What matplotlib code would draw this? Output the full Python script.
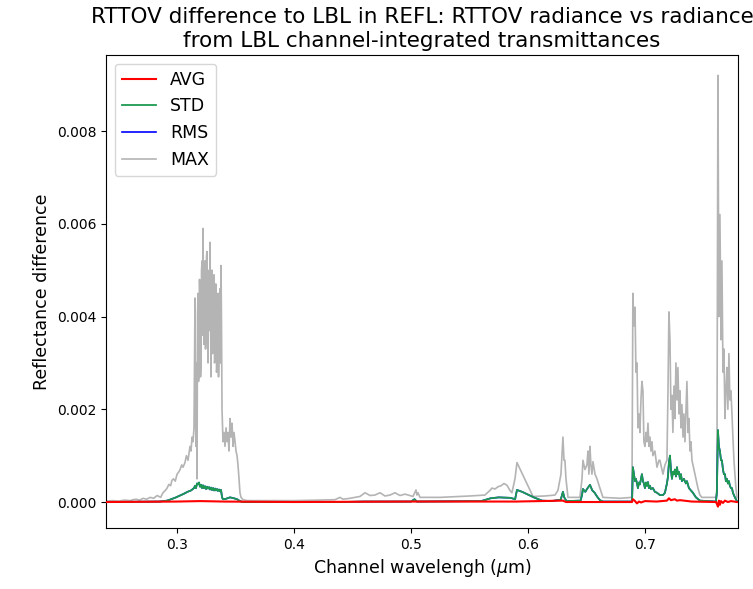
import numpy as np
import matplotlib
matplotlib.use("Agg")
import matplotlib.pyplot as plt

# ---- MAX (wavelength, value) ----
wl_max = [0.2393, 0.245, 0.250, 0.255, 0.260, 0.2624, 0.265, 0.268, 0.271, 0.274, 0.277, 0.280,
          0.283, 0.286, 0.288, 0.290, 0.2915, 0.293, 0.2945, 0.2957, 0.297, 0.2985, 0.300, 0.3015,
          0.3026, 0.304, 0.3051, 0.3068, 0.308, 0.3094, 0.3111, 0.312, 0.3128, 0.3137, 0.3145,
          0.31538, 0.31581, 0.31624, 0.31667, 0.31709, 0.31752, 0.31795, 0.31838, 0.31880, 0.31923,
          0.31966, 0.32009, 0.32051, 0.32094, 0.32137, 0.32179, 0.32222, 0.32265, 0.32308, 0.32350,
          0.32393, 0.32436, 0.32479, 0.32521, 0.32564, 0.32607, 0.32650, 0.32692, 0.32735, 0.32778,
          0.32821, 0.32863, 0.32906, 0.32949, 0.32991, 0.33034, 0.33077, 0.33120, 0.33162, 0.33205,
          0.33248, 0.33291, 0.33333, 0.33376, 0.33419, 0.33462, 0.33504, 0.33547, 0.33590, 0.33632,
          0.33675, 0.33718, 0.33761, 0.33803, 0.33846, 0.33889,
          0.3393, 0.3402, 0.3410, 0.3419, 0.3427,
          0.3436, 0.3444, 0.3453, 0.3462, 0.3470, 0.3479, 0.3487, 0.3496, 0.3504, 0.3513, 0.3521,
          0.3530, 0.3538, 0.3547, 0.3564,
          0.360, 0.380, 0.400, 0.420, 0.435,
          0.4393, 0.4419, 0.4479, 0.4521, 0.4564, 0.4607, 0.4650, 0.4692, 0.4735, 0.4778, 0.4821,
          0.4863, 0.4906, 0.4949, 0.4991, 0.5017, 0.5043, 0.5051, 0.5060, 0.5077, 0.5248, 0.5419,
          0.5504, 0.5632, 0.5675, 0.5692, 0.5718, 0.5744, 0.5769, 0.5795, 0.5821, 0.5846, 0.5863,
          0.5889, 0.5906, 0.6043, 0.6145, 0.6231, 0.6256, 0.6282, 0.6299, 0.6308, 0.6316, 0.6325,
          0.6342, 0.6444, 0.6462, 0.6470, 0.6487, 0.6504, 0.6513, 0.6521, 0.6530, 0.6538, 0.6547,
          0.6556, 0.6573, 0.6590, 0.6615, 0.6641, 0.6786, 0.6889,
          0.6897, 0.6906, 0.6915, 0.6923, 0.6932, 0.6940, 0.6949, 0.6957, 0.6966, 0.6974, 0.6983,
          0.6991, 0.7000, 0.7009, 0.7017, 0.7026, 0.7034, 0.7043, 0.7051, 0.7060, 0.7068, 0.7085,
          0.7103, 0.7120, 0.7128, 0.7145, 0.7154, 0.7171, 0.7188, 0.7197, 0.7205, 0.7214, 0.7222,
          0.7231, 0.7239, 0.7248, 0.7256, 0.7265, 0.7274, 0.7282, 0.7291, 0.7299, 0.7308, 0.7316,
          0.7325, 0.7333, 0.7342, 0.7359, 0.7368, 0.7376, 0.7385, 0.7393, 0.7402, 0.7419, 0.7436,
          0.7453, 0.7470, 0.7487, 0.7607, 0.7615, 0.7624, 0.7632, 0.7641, 0.7650, 0.7658, 0.7667,
          0.7675, 0.7684, 0.7692, 0.7701, 0.7709, 0.7718, 0.7726, 0.7735, 0.7744, 0.7752, 0.7761,
          0.7769, 0.7778, 0.7786]
max_vals = [0.00002, 0.00003, 0.00002, 0.00004, 0.00003, 0.00005, 0.00006, 0.00004, 0.00008, 0.00006,
            0.0001, 0.00008, 0.00014, 0.0001, 0.0002, 0.00025, 0.0003, 0.00038, 0.00035, 0.00047,
            0.0005, 0.00045, 0.0006, 0.00065, 0.0007, 0.0008, 0.00075, 0.00085, 0.001, 0.0009,
            0.0012, 0.0011, 0.0014, 0.0013, 0.0016,
            0.0044, 0.0018, 0.0012, 0.0030, 0.0005, 0.0040, 0.0045, 0.0026, 0.0028, 0.0048,
            0.0043, 0.0027, 0.0030, 0.0050, 0.0052, 0.0036, 0.0059, 0.0041, 0.0034, 0.0049,
            0.0052, 0.0033, 0.0038, 0.0053, 0.0054, 0.0036, 0.0030, 0.0048, 0.0050, 0.0037,
            0.0056, 0.0042, 0.0027, 0.0046, 0.0050, 0.0032, 0.0035, 0.0048, 0.0049, 0.0030,
            0.0031, 0.0047, 0.0047, 0.0028, 0.0029, 0.0044, 0.0045, 0.0027, 0.0033, 0.0044,
            0.0046, 0.0030, 0.0051, 0.0038, 0.0020, 0.0016,
            0.0013, 0.0015, 0.0012, 0.0016, 0.0013,
            0.0015, 0.0011, 0.0018, 0.0014, 0.0017, 0.0012, 0.0015, 0.0013, 0.0011, 0.0010, 0.0008,
            0.0005, 0.0002, 0.0001, 0.00005,
            0.00003, 0.00003, 0.00003, 0.00004, 0.00005,
            0.0001, 0.00006, 0.00008, 0.0001, 0.00012, 0.0002, 0.00014, 0.00015, 0.0002, 0.00013,
            0.00015, 0.0002, 0.00014, 0.00017, 0.00014, 0.00012, 0.00026, 0.00015, 0.0002, 0.0001,
            0.0001, 0.00012, 0.00013, 0.00015, 0.00025, 0.0003, 0.00028, 0.00033, 0.00035, 0.0004,
            0.00036, 0.00025, 0.0002, 0.0005, 0.00085, 0.00012, 0.00013, 0.00015, 0.00025, 0.0006,
            0.0014, 0.0009, 0.0009, 0.0005, 0.0001, 0.0001, 0.0005, 0.0009, 0.0007, 0.0008, 0.0011,
            0.0006, 0.0012, 0.0008, 0.0006, 0.00087, 0.0006, 0.0005, 0.0003, 0.0001, 0.00008, 0.0001,
            0.0045, 0.0038, 0.0042, 0.0028, 0.0030, 0.0016, 0.0019, 0.0015, 0.0022, 0.0026, 0.0024,
            0.0013, 0.0012, 0.0015, 0.0013, 0.0017, 0.0012, 0.0014, 0.0011, 0.0013, 0.0010, 0.0011,
            0.00075, 0.0009, 0.0009, 0.0007, 0.0006, 0.0008, 0.0009, 0.0024, 0.0041, 0.0035, 0.0020,
            0.0023, 0.0015, 0.0025, 0.0018, 0.0030, 0.0022, 0.0029, 0.0019, 0.0024, 0.0016, 0.0021,
            0.0014, 0.0019, 0.0013, 0.0026, 0.0015, 0.0018, 0.0011, 0.0013, 0.0009, 0.0007, 0.0005,
            0.0003, 0.00015, 0.0001, 0.0001, 0.0003, 0.0092, 0.0040, 0.0062, 0.0035, 0.0052, 0.0028,
            0.0033, 0.0018, 0.0024, 0.0029, 0.0020, 0.0032, 0.0022, 0.0024, 0.0019, 0.0014, 0.0009,
            0.0006, 0.0003, 0.0001]

# ---- STD (wavelength, value) ----
wl_std = [0.2393, 0.285, 0.2915, 0.295, 0.2991, 0.3026, 0.306, 0.309, 0.312, 0.3145,
          0.3154, 0.3162, 0.3171, 0.3179, 0.3188, 0.3197, 0.3205, 0.3214, 0.3222, 0.3231, 0.3239,
          0.3248, 0.3256, 0.3265, 0.3274, 0.3282, 0.3291, 0.3299, 0.3308, 0.3316, 0.3325, 0.3333,
          0.3342, 0.3350, 0.3359, 0.3368, 0.3376, 0.3385, 0.3393, 0.3419, 0.3453, 0.3487, 0.3513,
          0.3538, 0.3564, 0.440, 0.460, 0.500, 0.503, 0.505, 0.560, 0.568, 0.575, 0.585, 0.589,
          0.5906, 0.595, 0.600, 0.605, 0.612, 0.620, 0.628, 0.6299, 0.631, 0.633, 0.645, 0.6462,
          0.647, 0.649, 0.651, 0.653, 0.655, 0.657, 0.659, 0.6615, 0.664, 0.689,
          0.6897, 0.6906, 0.6915, 0.6923, 0.6932, 0.6940, 0.6949, 0.6957, 0.6966, 0.6974, 0.6983,
          0.6991, 0.7000, 0.7009, 0.7017, 0.7026, 0.7034, 0.7043, 0.7051, 0.7068, 0.7085, 0.7103,
          0.7128, 0.7154, 0.7171, 0.7188, 0.7197, 0.7205, 0.7214, 0.7222, 0.7231, 0.7239, 0.7248,
          0.7256, 0.7265, 0.7274, 0.7282, 0.7291, 0.7299, 0.7308, 0.7316, 0.7333, 0.7350, 0.7359,
          0.7376, 0.7393, 0.7410, 0.7436, 0.7470, 0.7607, 0.7615, 0.7624, 0.7632, 0.7641, 0.7650,
          0.7658, 0.7667, 0.7675, 0.7684, 0.7692, 0.7701, 0.7709, 0.7718, 0.7726, 0.7735, 0.7744,
          0.7752, 0.7761, 0.7769, 0.7786]
std_vals = [0.0, 0.00001, 0.00003, 0.00006, 0.0001, 0.00014, 0.00018, 0.00022, 0.00025, 0.0003,
            0.00035, 0.0003, 0.0004, 0.00038, 0.00042, 0.00033, 0.00037, 0.0003, 0.00036, 0.0003,
            0.00034, 0.00028, 0.00033, 0.00029, 0.00032, 0.00027, 0.00031, 0.00026, 0.0003, 0.00025,
            0.00029, 0.00025, 0.00028, 0.00024, 0.00027, 0.00023, 0.00026, 0.0001, 0.00006, 0.00007,
            0.0001, 0.00008, 0.00006, 0.00002, 0.0, 0.0, 0.00001, 0.00001, 0.00006, 0.00001,
            0.00002, 0.00008, 0.0001, 0.00009, 0.00006, 0.00026, 0.00022, 0.00016, 0.0001, 0.00003,
            0.00002, 0.00005, 0.00022, 0.0001, 0.00002, 0.00003, 0.00015, 0.00028, 0.00022, 0.0003,
            0.00037, 0.00025, 0.0002, 0.00012, 0.00004, 0.00001, 0.00001,
            0.00075, 0.0006, 0.00045, 0.0005, 0.0004, 0.0003, 0.00042, 0.00038, 0.0005, 0.0006,
            0.00045, 0.0004, 0.0003, 0.00042, 0.00035, 0.00043, 0.0003, 0.00035, 0.00028, 0.0003,
            0.00022, 0.0002, 0.00015, 0.00015, 0.0002, 0.0004, 0.00055, 0.00085, 0.001, 0.0007,
            0.0005, 0.00065, 0.0006, 0.0007, 0.00055, 0.00075, 0.0006, 0.00065, 0.0005, 0.0006,
            0.00045, 0.0005, 0.0004, 0.00045, 0.0003, 0.00025, 0.0002, 0.0001, 0.00003, 0.00001,
            0.0002, 0.00155, 0.0012, 0.0011, 0.0009, 0.0009, 0.0007, 0.0006, 0.0006, 0.00045,
            0.0005, 0.0004, 0.00045, 0.00035, 0.0003, 0.0003, 0.0002, 0.00015, 0.0001, 0.00002]

# ---- RMS: visually indistinguishable from STD (hidden beneath it) ----
wl_rms = wl_std
rms_vals = std_vals

# ---- AVG (wavelength, value) ----
wl_avg = [0.2393, 0.300, 0.320, 0.340, 0.400, 0.500, 0.590, 0.6299, 0.6325, 0.6889, 0.6897,
          0.6915, 0.6932, 0.6949, 0.6966, 0.7000, 0.7100, 0.7188, 0.7205, 0.7222, 0.7256, 0.7274,
          0.7300, 0.7400, 0.7607, 0.7615, 0.7624, 0.7632, 0.7641, 0.7650, 0.7667, 0.7684, 0.7709,
          0.7735, 0.7761, 0.7786]
avg_vals = [0.0, 0.00001, 0.00002, 0.00001, 0.0, 0.00001, 0.00001, 0.00003, 0.0, 0.0, 0.00006,
            0.00002, -0.00003, 0.00001, -0.00001, 0.00002, 0.00001, 0.00003, 0.00008, 0.00004,
            0.00006, 0.00003, 0.00004, 0.00001, 0.0, -0.00004, -0.0001, 0.00003, -0.00006, 0.00002,
            -0.00002, 0.00003, 0.0, 0.00002, 0.00001, 0.0]

fig = plt.figure(figsize=(7.53, 5.89), dpi=100)
ax = fig.add_axes([0.1408, 0.1036, 0.8392, 0.803])

ax.plot(wl_max, max_vals, color='#b4b4b4', lw=1.2, label='MAX', zorder=1)
ax.plot(wl_rms, rms_vals, color='blue', lw=1.2, label='RMS', zorder=2)
ax.plot(wl_std, std_vals, color='#1e9a50', lw=1.3, label='STD', zorder=3)
ax.plot(wl_avg, avg_vals, color='red', lw=1.5, label='AVG', zorder=4)

handles, labels = ax.get_legend_handles_labels()
order = [3, 2, 1, 0]
ax.legend([handles[i] for i in order], [labels[i] for i in order], loc='upper left', fontsize=12.5)

ax.set_xlim(0.2393, 0.7795)
ax.set_ylim(-0.00056, 0.00964)
ax.set_xticks([0.3, 0.4, 0.5, 0.6, 0.7])
ax.set_yticks([0.0, 0.002, 0.004, 0.006, 0.008])
ax.set_yticklabels(['0.000', '0.002', '0.004', '0.006', '0.008'])
ax.tick_params(labelsize=10)
ax.set_xlabel('Channel wavelengh ($\\mu$m)', fontsize=12.5)
ax.set_ylabel('Reflectance difference', fontsize=12.5)
ax.set_title('RTTOV difference to LBL in REFL: RTTOV radiance vs radiance\nfrom LBL channel-integrated transmittances', fontsize=15.5)

fig.savefig('out.png', dpi=100)
